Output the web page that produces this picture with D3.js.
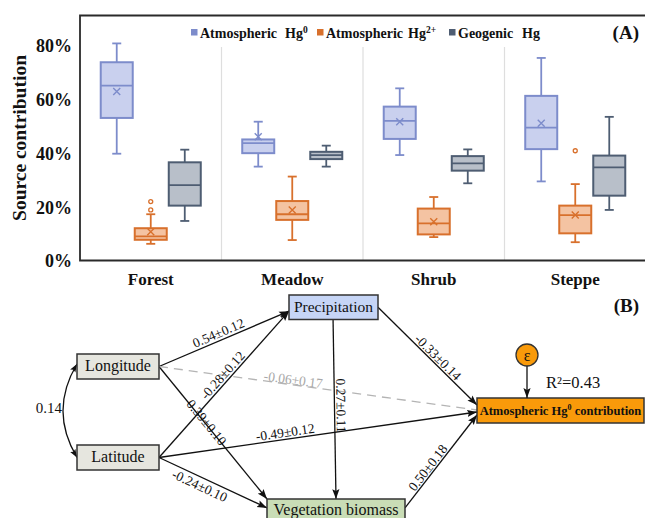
<!DOCTYPE html>
<html>
<head>
<meta charset="utf-8">
<script src="https://cdn.jsdelivr.net/npm/d3@7"></script>
<style>
  html, body { margin: 0; padding: 0; background: #fff; }
  svg { display: block; }
  text { font-family: "Liberation Serif", "Times New Roman", serif; }
</style>
</head>
<body>
<svg id="chart" width="645" height="518"></svg>
<script>
// ---------------- DATA (panel A) ----------------
const categories = ["Forest", "Meadow", "Shrub", "Steppe"];
const seriesKeys = ["hg0", "hg2", "geo"];
const seriesLabels = [["Atmospheric", "Hg", "0"], ["Atmospheric", "Hg", "2+"], ["Geogenic", "Hg", ""]];
// [min, q1, median, q3, max] in %
const hg0Stats = [[39.7, 53.0, 65.0, 73.7, 80.7], [34.9, 39.9, 43.6, 45.0, 51.6], [39.2, 45.2, 51.9, 57.2, 64.0], [29.4, 41.4, 49.4, 61.2, 75.3]];
const hg0Means = [62.8, 46.0, 51.6, 51.0];
const hg0Outliers = [[], [], [], []];
const hg2Stats = [[6.2, 7.7, 9.0, 12.0, 17.2], [7.6, 15.1, 17.2, 22.1, 31.2], [8.7, 9.7, 13.8, 19.3, 23.6], [6.8, 10.1, 16.9, 20.4, 28.4]];
const hg2Means = [10.7, 18.8, 14.4, 16.9];
const hg2Outliers = [[18.8, 21.9], [], [], [40.8]];
const geoStats = [[14.7, 20.4, 28.0, 36.5, 41.2], [34.9, 37.7, 39.2, 40.4, 42.7], [28.7, 33.4, 36.1, 38.8, 41.3], [18.8, 24.1, 34.6, 39.0, 53.4]];
const geoMeans = [null, null, null, null];
const geoOutliers = [[], [], [], []];
const yTicks = [0, 20, 40, 60, 80];

// ---------------- DATA (panel B) ----------------
const nodeNames = ["Longitude", "Latitude", "Precipitation", "Vegetation biomass", "Atmospheric Hg0 contribution"];
// [from, to, label, significant]
const pathEdges = [
  ["Longitude", "Precipitation", "0.54±0.12", true],
  ["Latitude", "Precipitation", "-0.28±0.12", true],
  ["Longitude", "Vegetation biomass", "0.39±0.10", true],
  ["Longitude", "Atmospheric Hg0 contribution", "-0.06±0.17", false],
  ["Latitude", "Atmospheric Hg0 contribution", "-0.49±0.12", true],
  ["Latitude", "Vegetation biomass", "-0.24±0.10", true],
  ["Precipitation", "Vegetation biomass", "0.27±0.11", true],
  ["Precipitation", "Atmospheric Hg0 contribution", "-0.33±0.14", true],
  ["Vegetation biomass", "Atmospheric Hg0 contribution", "0.50±0.18", true]
];
const covarianceLabel = "0.14";
const r2Label = "R²=0.43";

// ---------------- STYLE / LAYOUT ----------------
const styles = {
  hg0: { stroke: "#7D8CCB", fill: "#C9D0EE" },
  hg2: { stroke: "#D8702C", fill: "#F4C3A2" },
  geo: { stroke: "#4E5D72", fill: "#B8BFC9" }
};
const statsBy = { hg0: hg0Stats, hg2: hg2Stats, geo: geoStats };
const meansBy = { hg0: hg0Means, hg2: hg2Means, geo: geoMeans };
const outBy = { hg0: hg0Outliers, hg2: hg2Outliers, geo: geoOutliers };

const svg = d3.select("#chart");

// ---------- Panel A ----------
const plotLeft = 80, plotRight = 646, plotTop = 15.5, plotBottom = 260.5;
const x = d3.scaleBand().domain(categories).range([plotLeft, plotRight]);
const xs = d3.scalePoint().domain(seriesKeys).range([0, x.bandwidth()]).padding(1.08);
const y = d3.scaleLinear().domain([0, 80]).range([plotBottom, 45.3]);
const boxW = 32, capHalf = 4.5;

const gA = svg.append("g");

// category separators
gA.selectAll("line.sep").data(categories.slice(1)).join("line")
  .attr("x1", d => x(d)).attr("x2", d => x(d))
  .attr("y1", 47).attr("y2", plotBottom)
  .attr("stroke", "#DEDEDE").attr("stroke-width", 1.2);

// y axis
const yAxis = d3.axisLeft(y).tickValues(yTicks).tickFormat(d => d + "%").tickSize(0).tickPadding(8);
const yg = gA.append("g").attr("transform", `translate(${plotLeft},0)`).call(yAxis);
yg.select(".domain").remove();
yg.selectAll("text").attr("font-family", "Liberation Serif").attr("font-weight", "bold")
  .attr("font-size", 18).attr("fill", "#111").attr("dy", "0.36em");

// x axis labels
const xAxis = d3.axisBottom(x).tickSize(0).tickPadding(12);
const xg = gA.append("g").attr("transform", `translate(0,${plotBottom})`).call(xAxis);
xg.select(".domain").remove();
xg.selectAll("text").attr("font-family", "Liberation Serif").attr("font-weight", "bold")
  .attr("font-size", 17).attr("fill", "#111");

// frame
gA.append("path")
  .attr("d", `M${plotRight},${plotTop}H${plotLeft}V${plotBottom}H${plotRight}`)
  .attr("fill", "none").attr("stroke", "#2a2a2a").attr("stroke-width", 1.8);

// y title
gA.append("text").attr("transform", `translate(26,138) rotate(-90)`)
  .attr("text-anchor", "middle").attr("font-weight", "bold").attr("font-size", 19.5)
  .attr("fill", "#111").text("Source contribution");

// boxes
seriesKeys.forEach(key => {
  const st = styles[key];
  const g = gA.append("g");
  const rows = categories.map((c, i) => ({ c, s: statsBy[key][i], m: meansBy[key][i], o: outBy[key][i] }));
  const grp = g.selectAll("g").data(rows).join("g")
    .attr("transform", d => `translate(${x(d.c) + xs(key)},0)`);
  // whiskers
  grp.append("line").attr("x1", 0).attr("x2", 0).attr("y1", d => y(d.s[0])).attr("y2", d => y(d.s[1]))
    .attr("stroke", st.stroke).attr("stroke-width", 1.8);
  grp.append("line").attr("x1", 0).attr("x2", 0).attr("y1", d => y(d.s[3])).attr("y2", d => y(d.s[4]))
    .attr("stroke", st.stroke).attr("stroke-width", 1.8);
  grp.append("line").attr("x1", -capHalf).attr("x2", capHalf).attr("y1", d => y(d.s[0])).attr("y2", d => y(d.s[0]))
    .attr("stroke", st.stroke).attr("stroke-width", 1.8);
  grp.append("line").attr("x1", -capHalf).attr("x2", capHalf).attr("y1", d => y(d.s[4])).attr("y2", d => y(d.s[4]))
    .attr("stroke", st.stroke).attr("stroke-width", 1.8);
  // box
  grp.append("rect").attr("x", -boxW / 2).attr("width", boxW)
    .attr("y", d => y(d.s[3])).attr("height", d => y(d.s[1]) - y(d.s[3]))
    .attr("fill", st.fill).attr("stroke", st.stroke).attr("stroke-width", 2);
  // median
  grp.append("line").attr("x1", -boxW / 2).attr("x2", boxW / 2).attr("y1", d => y(d.s[2])).attr("y2", d => y(d.s[2]))
    .attr("stroke", st.stroke).attr("stroke-width", 1.8);
  // mean
  grp.filter(d => d.m != null).append("path")
    .attr("d", d => { const yy = y(d.m); return `M-3.5,${yy - 3.5}L3.5,${yy + 3.5}M-3.5,${yy + 3.5}L3.5,${yy - 3.5}`; })
    .attr("stroke", st.stroke).attr("stroke-width", 1.4).attr("fill", "none");
  // outliers
  grp.selectAll("circle").data(d => d.o).join("circle")
    .attr("cx", 0).attr("cy", d => y(d)).attr("r", 2)
    .attr("fill", "#fff").attr("stroke", st.stroke).attr("stroke-width", 1.3);
});

// legend
const legendX = { hg0: 191, hg2: 317, geo: 449 };
const legendHgX = { hg0: 285, hg2: 408, geo: 522 };
seriesKeys.forEach((key, i) => {
  const lg = gA.append("g");
  lg.append("rect").attr("x", legendX[key]).attr("y", 29).attr("width", 6.5).attr("height", 6.5)
    .attr("fill", styles[key].stroke);
  lg.append("text").attr("x", legendX[key] + 9).attr("y", 37.5)
    .attr("font-weight", "bold").attr("font-size", 14).attr("fill", "#111").text(seriesLabels[i][0]);
  const t = lg.append("text").attr("x", legendHgX[key]).attr("y", 37.5)
    .attr("font-weight", "bold").attr("font-size", 14).attr("fill", "#111");
  t.append("tspan").text(seriesLabels[i][1]);
  if (seriesLabels[i][2]) t.append("tspan").attr("dy", -5).attr("font-size", 9.5).text(seriesLabels[i][2]);
});

gA.append("text").attr("x", 639).attr("y", 39).attr("text-anchor", "end")
  .attr("font-weight", "bold").attr("font-size", 19).attr("fill", "#111").text("(A)");

// ---------- Panel B ----------
const nodeLayout = {
  "Longitude": { x: 77, y: 354, w: 82, h: 25, fill: "#E6E6DF", fs: 16, base: 17 },
  "Latitude": { x: 77, y: 445, w: 82, h: 25, fill: "#E6E6DF", fs: 16, base: 17 },
  "Precipitation": { x: 289, y: 295, w: 89, h: 24.5, fill: "#C6D5F6", fs: 15.5, base: 17 },
  "Vegetation biomass": { x: 267, y: 499, w: 138, h: 27, fill: "#C9DDB6", fs: 16, base: 16 },
  "Atmospheric Hg0 contribution": { x: 477, y: 398, w: 167, h: 25, fill: "#F99A0A", fs: 12.5, base: 16.5, bold: true }
};
// [from anchor fx,fy], [to anchor fx,fy], label t, label offset
const edgeLayout = [
  { a: [1, 0.5], b: [0, 0.66], t: 0.48, off: 3 },
  { a: [1, 0.5], b: [0, 0.66], t: 0.53, off: 2.5 },
  { a: [1, 0.5], b: [0, 0], t: 0.43, off: -3 },
  { a: [1, 0.5], b: [0, 0.48], t: 0.42, off: 0.5 },
  { a: [1, 0.5], b: [0, 0.56], t: 0.40, off: 2.5 },
  { a: [1, 0.5], b: [0, 0.33], t: 0.41, off: -13 },
  { a: [0.495, 1], b: [0.5, 0], t: 0.48, off: 2 },
  { a: [1, 0.5], b: [0, 0.28], t: 0.56, off: 2 },
  { a: [1, 0.33], b: [0, 0.68], t: 0.39, off: 2 }
];

const defs = svg.append("defs");
defs.append("marker").attr("id", "arr").attr("viewBox", "0 -5 12 10")
  .attr("refX", 11).attr("refY", 0).attr("markerWidth", 11).attr("markerHeight", 9)
  .attr("markerUnits", "userSpaceOnUse").attr("orient", "auto")
  .append("path").attr("d", "M0,-4L11,0L0,4L2,0Z").attr("fill", "#111");
defs.append("marker").attr("id", "arrS").attr("viewBox", "0 -5 12 10")
  .attr("refX", 11).attr("refY", 0).attr("markerWidth", 9).attr("markerHeight", 8)
  .attr("markerUnits", "userSpaceOnUse").attr("orient", "auto-start-reverse")
  .append("path").attr("d", "M0,-4L11,0L0,4L2,0Z").attr("fill", "#111");

const gB = svg.append("g");
const anchor = (name, f) => { const n = nodeLayout[name]; return [n.x + n.w * f[0], n.y + n.h * f[1]]; };

const edges = pathEdges.map((e, i) => {
  const L = edgeLayout[i];
  const p0 = anchor(e[0], L.a), p1 = anchor(e[1], L.b);
  return { from: e[0], to: e[1], label: e[2], sig: e[3], p0, p1, t: L.t, off: L.off };
});

// edge lines
gB.selectAll("line.edge").data(edges).join("line")
  .attr("x1", d => d.p0[0]).attr("y1", d => d.p0[1])
  .attr("x2", d => d.p1[0]).attr("y2", d => d.p1[1])
  .attr("stroke", d => d.sig ? "#111" : "#B4B4B4")
  .attr("stroke-width", 1.3)
  .attr("stroke-dasharray", d => d.sig ? null : "9,6")
  .attr("marker-end", d => d.sig ? "url(#arr)" : null);

// edge labels
gB.selectAll("text.elab").data(edges).join("text")
  .attr("transform", d => {
    const ang = Math.atan2(d.p1[1] - d.p0[1], d.p1[0] - d.p0[0]);
    const px = d.p0[0] + (d.p1[0] - d.p0[0]) * d.t + d.off * Math.sin(ang);
    const py = d.p0[1] + (d.p1[1] - d.p0[1]) * d.t - d.off * Math.cos(ang);
    return `translate(${px},${py}) rotate(${ang * 180 / Math.PI})`;
  })
  .attr("text-anchor", "middle").attr("font-size", 13.5)
  .attr("fill", d => d.sig ? "#111" : "#A8A8A8").text(d => d.label);

// covariance curve
const lo = anchor("Longitude", [0, 0.4]), la = anchor("Latitude", [0, 0.5]);
gB.append("path")
  .attr("d", `M${lo[0]},${lo[1]}Q${lo[0] - 28},${(lo[1] + la[1]) / 2} ${la[0]},${la[1]}`)
  .attr("fill", "none").attr("stroke", "#111").attr("stroke-width", 1.3)
  .attr("marker-start", "url(#arrS)").attr("marker-end", "url(#arrS)");
gB.append("text").attr("x", 62).attr("y", 413).attr("text-anchor", "end")
  .attr("font-size", 15).attr("fill", "#111").text(covarianceLabel);

// nodes
const nodes = gB.selectAll("g.node").data(nodeNames).join("g");
nodes.append("rect")
  .attr("x", d => nodeLayout[d].x).attr("y", d => nodeLayout[d].y)
  .attr("width", d => nodeLayout[d].w).attr("height", d => nodeLayout[d].h)
  .attr("fill", d => nodeLayout[d].fill).attr("stroke", "#333").attr("stroke-width", 1.5);
nodes.append("text")
  .attr("x", d => nodeLayout[d].x + nodeLayout[d].w / 2)
  .attr("y", d => nodeLayout[d].y + nodeLayout[d].base)
  .attr("text-anchor", "middle")
  .attr("font-size", d => nodeLayout[d].fs)
  .attr("font-weight", d => nodeLayout[d].bold ? "bold" : "normal")
  .attr("fill", "#111")
  .each(function (d) {
    const t = d3.select(this);
    if (d.includes("Hg0")) {
      const parts = d.split("Hg0");
      t.append("tspan").text(parts[0] + "Hg");
      t.append("tspan").attr("dy", -4.5).attr("font-size", 8).text("0");
      t.append("tspan").attr("dy", 4.5).text(parts[1]);
    } else t.text(d);
  });

// error term
const tgt = nodeLayout["Atmospheric Hg0 contribution"];
const ex = 527, ey = 355;
gB.append("line").attr("x1", ex).attr("y1", ey + 11).attr("x2", ex).attr("y2", tgt.y)
  .attr("stroke", "#111").attr("stroke-width", 1.3).attr("marker-end", "url(#arr)");
gB.append("circle").attr("cx", ex).attr("cy", ey).attr("r", 11)
  .attr("fill", "#F99A0A").attr("stroke", "#333").attr("stroke-width", 1.3);
gB.append("text").attr("x", ex).attr("y", ey + 5.5).attr("text-anchor", "middle")
  .attr("font-size", 16).attr("fill", "#111").text("ε");
gB.append("text").attr("x", 546).attr("y", 388).attr("font-family", "Liberation Sans")
  .attr("font-size", 16.5).attr("fill", "#111").text(r2Label);

gB.append("text").attr("x", 639).attr("y", 312).attr("text-anchor", "end")
  .attr("font-weight", "bold").attr("font-size", 19).attr("fill", "#111").text("(B)");
</script>
</body>
</html>
